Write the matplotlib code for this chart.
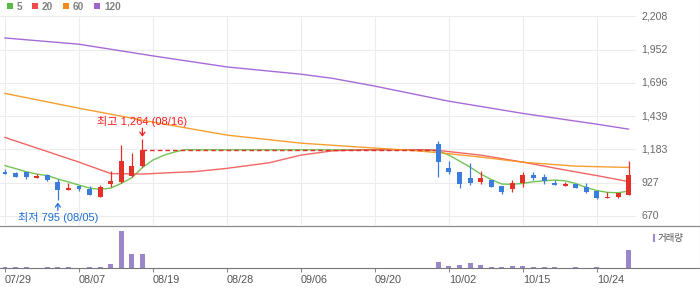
import matplotlib
matplotlib.use('Agg')
import matplotlib.pyplot as plt
import matplotlib.transforms as mtransforms
from matplotlib.patches import Rectangle
from matplotlib.lines import Line2D
import numpy as np

plt.rcParams['font.family'] = ['Liberation Sans', 'Noto Sans CJK KR', 'DejaVu Sans']

# ---------------- data ----------------
days = ['07/29', '07/30', '07/31', '08/01', '08/02', '08/05', '08/06', '08/07', '08/08', '08/09',
        '08/12', '08/13', '08/14', '08/16', '08/19', '08/20', '08/21', '08/22', '08/23', '08/26',
        '08/27', '08/28', '08/29', '08/30', '09/02', '09/03', '09/04', '09/05', '09/06', '09/09',
        '09/10', '09/11', '09/12', '09/13', '09/19', '09/20', '09/23', '09/24', '09/25', '09/26',
        '09/27', '09/30', '10/02', '10/04', '10/07', '10/08', '10/10', '10/11', '10/14', '10/15',
        '10/16', '10/17', '10/18', '10/21', '10/22', '10/23', '10/24', '10/25', '10/28', '10/29']

tick_labels = ['07/29', '08/07', '08/19', '08/28', '09/06', '09/20', '10/02', '10/15', '10/24']

candle_days = ['07/29', '07/30', '07/31', '08/01', '08/02', '08/05', '08/06', '08/07', '08/08', '08/09',
               '08/12', '08/13', '08/14', '08/16',
               '09/30', '10/02', '10/04', '10/07', '10/08', '10/10', '10/11', '10/14', '10/15', '10/16',
               '10/17', '10/18', '10/21', '10/22', '10/23', '10/24', '10/25', '10/28', '10/29']
open_ = [1011, 1003, 1008, 966, 983, 934, 872, 901, 880, 818, 916, 934, 978, 1057,
         1224, 1041, 1008, 962, 929, 947, 901, 878, 926, 985, 970, 921, 903, 914, 895, 862, 811, 814, 832]
high = [1031, 1011, 1008, 993, 995, 952, 926, 901, 901, 908, 1016, 1216, 1152, 1264,
        1247, 1093, 1008, 1080, 1016, 947, 901, 947, 1008, 1011, 991, 947, 932, 914, 926, 862, 852, 845, 1093]
low = [995, 972, 955, 966, 937, 795, 872, 862, 834, 818, 895, 926, 968, 1045,
       972, 991, 888, 908, 916, 895, 842, 852, 895, 947, 918, 911, 903, 888, 845, 798, 806, 806, 832]
close = [995, 972, 968, 978, 947, 870, 885, 878, 834, 891, 939, 1093, 1055, 1180,
         1088, 1006, 918, 926, 961, 895, 857, 921, 985, 960, 939, 911, 916, 888, 857, 811, 818, 845, 985]
volume = [45, 42, 42, 12, 42, 45, 40, 10, 42, 45, 140, 1200, 470, 470,
          205, 75, 108, 172, 108, 42, 42, 75, 75, 42, 42, 42, 15, 42, 15, 42, 15, 15, 600]

halt_start, halt_end = '08/16', '09/30'

ma5 = ([1058, 1035, 1011, 993, 981, 955, 932, 908, 885, 875, 885, 921, 965, 1043, 1101, 1137, 1162]
       + [1180] * 24
       + [1172, 1139, 1093, 1047, 993, 951, 916, 914, 921, 934, 941, 947, 941, 920, 889, 866, 852, 849, 862])

ma20_days = ['07/29', '08/07', '08/12', '08/16', '08/21', '08/23', '08/28', '09/03', '09/06', '09/11',
             '09/19', '09/27', '09/30', '10/08', '10/15', '10/21', '10/24', '10/29']
ma20 = [1275, 1085, 997, 993, 1005, 1012, 1037, 1080, 1139, 1172,
        1180, 1180, 1175, 1139, 1085, 1024, 981, 935]

ma60_days = ['07/29', '08/07', '08/19', '08/28', '09/06', '09/20', '09/25', '09/30', '10/08', '10/15',
             '10/22', '10/29']
ma60 = [1614, 1500, 1393, 1293, 1231, 1193, 1178, 1158, 1124, 1084, 1054, 1044]

ma120_days = ['07/29', '08/07', '08/19', '08/28', '09/06', '09/11', '09/20', '10/02', '10/15', '10/24', '10/29']
ma120 = [2041, 1993, 1903, 1818, 1762, 1730, 1670, 1554, 1460, 1377, 1339]

price_ticks = [670, 927, 1183, 1439, 1696, 1952, 2208]

# ---------------- style ----------------
W, H = 700, 289
UP, DOWN = '#e3312a', '#3b7ddd'
MA_COLORS = {'5': '#72c455', '20': '#f05555', '60': '#f7941d', '120': '#a76bd8'}
LEG_COLORS = ['#5cb946', '#ef4b4b', '#f58a1f', '#a064d2']
VOL_COLOR = '#9a86c8'
GRID = '#ececec'

pos = {d: i for i, d in enumerate(days)}

fig = plt.figure(figsize=(W / 100, H / 100), dpi=100)

def fx(px):
    return px / W

def fy(py):
    return 1 - py / H

ax = fig.add_axes([0, fy(225), fx(636), (225 - 16) / H])
vax = fig.add_axes([0, fy(268), fx(636), 42 / H])

step = 10.57
xlim = (-5 / step, 631 / step)
for a in (ax, vax):
    a.set_xlim(*xlim)
    for s in a.spines.values():
        s.set_visible(False)
ax.set_ylim(600.7, 2210.3)
ax.set_xticks([])
ax.set_yticks([])

# grid
tick_idx = [pos[t] for t in tick_labels]
for v in price_ticks:
    ax.axhline(v, color=GRID, lw=0.8, zorder=0)
for t in tick_idx:
    ax.axvline(t, color=GRID, lw=0.8, zorder=0)

# right price labels
blend = mtransforms.blended_transform_factory(ax.transAxes, ax.transData)
for v in price_ticks:
    ax.text(1 + 5 / 636, v, f'{v:,}', transform=blend, ha='left', va='center',
            fontsize=7.6, color='#666', clip_on=False)

# moving averages
ax.plot(np.arange(len(days)), ma5, color=MA_COLORS['5'], lw=1.0, zorder=2)
ax.plot([pos[d] for d in ma20_days], ma20, color=MA_COLORS['20'], lw=1.0, alpha=0.9, zorder=2)
ax.plot([pos[d] for d in ma60_days], ma60, color=MA_COLORS['60'], lw=1.0, alpha=0.9, zorder=2)
ax.plot([pos[d] for d in ma120_days], ma120, color=MA_COLORS['120'], lw=1.0, zorder=2)

# halt dashed line
halt_level = close[candle_days.index(halt_start)]
ax.plot([pos[halt_start], pos[halt_end]], [halt_level, halt_level], color=UP, lw=1.0,
        ls=(0, (3.3, 2.2)), zorder=2.5)

# candles
cx = [pos[d] for d in candle_days]
for i, o, h, l, c in zip(cx, open_, high, low, close):
    col = UP if c >= o else DOWN
    ax.vlines(i, l, h, color=col, lw=0.9, zorder=3)
    ax.bar(i, max(abs(c - o), 7.7), bottom=min(o, c), width=0.47, color=col, zorder=4, linewidth=0)

# high / low annotations
hi_i = int(np.argmax(high))
lo_i = int(np.argmin(low))
hx, hy = cx[hi_i], high[hi_i]
lx, ly = cx[lo_i], low[lo_i]
ax.annotate(f'최고 {hy:,} ({candle_days[hi_i]})', xy=(hx, hy), xytext=(0, 12.7), textcoords='offset points',
            ha='center', va='center', fontsize=8, color='#ff1a1a', zorder=6)
ax.annotate('', xy=(hx, hy), xytext=(0, 7.6), textcoords='offset points',
            arrowprops=dict(arrowstyle='->,head_length=0.25,head_width=0.18', color='#ff1a1a', lw=0.9,
                            shrinkA=0, shrinkB=1.6), zorder=6)
ax.annotate(f'최저 {ly:,} ({candle_days[lo_i]})', xy=(lx, ly), xytext=(0, -12.7), textcoords='offset points',
            ha='center', va='center', fontsize=8, color='#1f6fd6', zorder=6, annotation_clip=False)
ax.annotate('', xy=(lx, ly), xytext=(0, -7.6), textcoords='offset points',
            arrowprops=dict(arrowstyle='->,head_length=0.25,head_width=0.18', color='#1f6fd6', lw=0.9,
                            shrinkA=0, shrinkB=2.0), zorder=6, annotation_clip=False)

# volume
vax.bar(cx, volume, width=0.47, color=VOL_COLOR, linewidth=0)
vax.set_ylim(0, 1373)
vax.set_yticks([])
vax.set_xticks(tick_idx)
vax.set_xticklabels(tick_labels, ha='left')
vax.tick_params(axis='x', length=3, width=0.75, color='#888', labelsize=7.8, labelcolor='#555', pad=2)

# frame lines
fig.add_artist(Line2D([0, 1], [fy(225.5), fy(225.5)], color='#8c8c8c', lw=0.9))
fig.add_artist(Line2D([0, 1], [fy(268), fy(268)], color='#777', lw=0.8))
fig.add_artist(Line2D([fx(699.5), fx(699.5)], [fy(0), fy(268)], color='#c8c8c8', lw=0.8))

# top legend
for (sx, tx, lab), col in zip([(7.3, 16.3, '5'), (31.7, 41.7, '20'), (63.3, 72.7, '60'), (94.3, 104.3, '120')],
                              LEG_COLORS):
    fig.add_artist(Rectangle((fx(sx), fy(9.3)), 6 / W, 6.3 / H, transform=fig.transFigure,
                             facecolor=col, edgecolor='none'))
    fig.text(fx(tx), fy(6.5), lab, ha='left', va='center', fontsize=7.2, fontweight='bold', color='#808080')

# volume legend
fig.add_artist(Rectangle((fx(652.7), fy(241.6)), 2.7 / W, 7.3 / H, transform=fig.transFigure,
                         facecolor=VOL_COLOR, edgecolor='none'))
fig.text(fx(658), fy(238), '거래량', ha='left', va='center', fontsize=6.8, color='#555',
         family=['Noto Sans CJK KR', 'DejaVu Sans'])

fig.savefig('out.png', dpi=100)
